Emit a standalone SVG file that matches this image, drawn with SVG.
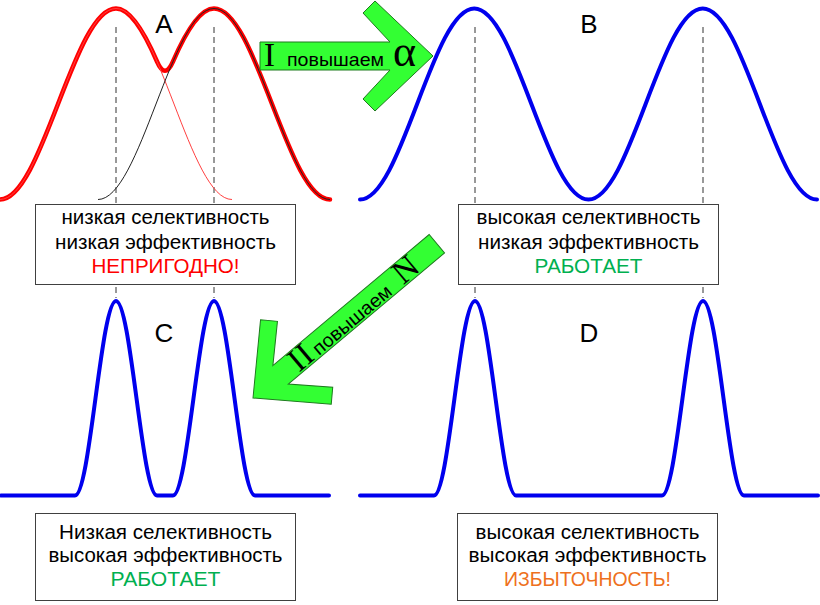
<svg xmlns="http://www.w3.org/2000/svg" width="820" height="605" viewBox="0 0 820 605">
<style>
.bg{fill:#ffffff}
.dash{stroke:#333333;stroke-width:1;stroke-dasharray:6 4;fill:none}
.blue{stroke:#0000ee;stroke-width:4;fill:none;stroke-linejoin:round;stroke-linecap:round}
.thickred{stroke:#ff0000;stroke-width:4.5;fill:none;stroke-linejoin:round;stroke-linecap:round}
.thinred{stroke:#ff4040;stroke-width:1;fill:none}
.thinblack{stroke:#222222;stroke-width:1;fill:none}
.box{fill:#ffffff;stroke:#404040;stroke-width:1}
.lbl{font-family:"Liberation Sans",Arial,sans-serif;font-size:26px;fill:#000000;text-anchor:middle}
.bt{font-family:"Liberation Sans",Arial,sans-serif;font-size:19.5px;fill:#000000;text-anchor:middle}
.red{fill:#ff0000}
.green{fill:#00b050}
.orange{fill:#ee7020}
.arrow{fill:#33ff33;stroke:#1e7a1e;stroke-width:1;stroke-linejoin:miter}
.serif{font-family:"Liberation Serif","Times New Roman",serif;fill:#000000}
.small{font-family:"Liberation Sans",Arial,sans-serif;font-size:19px;fill:#000000}
</style>
<rect class="bg" x="0" y="0" width="820" height="605"/>

<g id="guides">
<line class="dash" x1="116" y1="27" x2="116" y2="298"/>
<line class="dash" x1="214" y1="27" x2="214" y2="298"/>
<line class="dash" x1="475" y1="27" x2="475" y2="298"/>
<line class="dash" x1="703" y1="27" x2="703" y2="298"/>
</g>

<g id="panelA">
<path class="thickred" d="M0,199.5 C20.99,199.5 39.09,152.92 58,104 C76.91,55.08 95.01,8.5 116,8.5 C129.67,8.5 143.33,29.84 157,61.5 Q165,80 173,61.5 C186.67,29.84 200.33,8.5 214,8.5 C234.99,8.5 253.09,55.08 272,104 C290.91,152.92 309.01,199.5 330,199.5"/>
<path class="thinred" d="M0,199.5 C20.99,199.5 39.09,152.92 58,104 C76.91,55.08 95.01,8.5 116,8.5 C136.99,8.5 155.09,55.08 174,104 C192.91,152.92 211.01,199.5 232,199.5"/>
<path class="thinblack" d="M98,199.5 C118.99,199.5 137.09,152.92 156,104 C174.91,55.08 193.01,8.5 214,8.5 C234.99,8.5 253.09,55.08 272,104 C290.91,152.92 309.01,199.5 330,199.5"/>
<text class="lbl" x="164" y="33">A</text>
</g>

<g id="panelB">
<path class="blue" d="M360,199.5 C380.67,199.5 398.5,152.92 417.125,104 C435.75,55.08 453.58,8.5 474.25,8.5 C494.92,8.5 512.75,55.08 531.375,104 C550,152.92 567.83,199.5 588.5,199.5 C609.17,199.5 627,152.92 645.625,104 C664.25,55.08 682.08,8.5 702.75,8.5 C723.42,8.5 741.25,55.08 759.875,104 C778.5,152.92 796.33,199.5 817,199.5"/>
<text class="lbl" x="589" y="33">B</text>
</g>

<g id="panelC">
<path class="blue" d="M1,495.5 L75,495.5 C82.42,495.5 88.81,448.07 95.5,398.25 C102.19,348.43 108.58,301 116,301 C123.42,301 129.81,348.43 136.5,398.25 C143.19,448.07 149.58,495.5 157,495.5 L173,495.5 C180.42,495.5 186.81,448.07 193.5,398.25 C200.19,348.43 206.58,301 214,301 C221.42,301 227.81,348.43 234.5,398.25 C241.19,448.07 247.58,495.5 255,495.5 L329,495.5"/>
<text class="lbl" x="164" y="342">C</text>
</g>

<g id="panelD">
<path class="blue" d="M360,495.5 L434,495.5 C441.42,495.5 447.81,448.07 454.5,398.25 C461.19,348.43 467.58,301 475,301 C482.42,301 488.81,348.43 495.5,398.25 C502.19,448.07 508.58,495.5 516,495.5 L662,495.5 C669.42,495.5 675.81,448.07 682.5,398.25 C689.19,348.43 695.58,301 703,301 C710.42,301 716.81,348.43 723.5,398.25 C730.19,448.07 736.58,495.5 744,495.5 L818,495.5"/>
<text class="lbl" x="589" y="342">D</text>
</g>

<g id="boxA">
<rect class="box" x="35.5" y="204.5" width="260" height="80"/>
<text class="bt" x="165.5" y="224" textLength="208" lengthAdjust="spacingAndGlyphs">низкая селективность</text>
<text class="bt" x="165.5" y="248.5" textLength="221" lengthAdjust="spacingAndGlyphs">низкая эффективность</text>
<text class="bt red" x="165.5" y="272.5" textLength="148" lengthAdjust="spacingAndGlyphs">НЕПРИГОДНО!</text>
</g>

<g id="boxB">
<rect class="box" x="458.5" y="204.5" width="260" height="80"/>
<text class="bt" x="588.5" y="224" textLength="224" lengthAdjust="spacingAndGlyphs">высокая селективность</text>
<text class="bt" x="588.5" y="248.5" textLength="221" lengthAdjust="spacingAndGlyphs">низкая эффективность</text>
<text class="bt green" x="588.5" y="272.5" textLength="108" lengthAdjust="spacingAndGlyphs">РАБОТАЕТ</text>
</g>

<g id="boxC">
<rect class="box" x="35.5" y="513.5" width="260" height="87"/>
<text class="bt" x="165.5" y="538.5" textLength="213" lengthAdjust="spacingAndGlyphs">Низкая селективность</text>
<text class="bt" x="165.5" y="562" textLength="234" lengthAdjust="spacingAndGlyphs">высокая эффективность</text>
<text class="bt green" x="165.5" y="585.5" textLength="110" lengthAdjust="spacingAndGlyphs">РАБОТАЕТ</text>
</g>

<g id="boxD">
<rect class="box" x="457.5" y="513.5" width="260" height="87"/>
<text class="bt" x="587.5" y="538.5" textLength="224" lengthAdjust="spacingAndGlyphs">высокая селективность</text>
<text class="bt" x="587.5" y="562" textLength="238" lengthAdjust="spacingAndGlyphs">высокая эффективность</text>
<text class="bt orange" x="587.5" y="585.5" textLength="167" lengthAdjust="spacingAndGlyphs">ИЗБЫТОЧНОСТЬ!</text>
</g>

<g id="connectors">
<g id="arrowI">
<polygon class="arrow" points="260,42 390,42 363,13 375,1 433,56 375,111 363,99 390,70 260,70"/>
<text class="serif" x="264" y="66" font-size="33">I</text>
<text class="small" x="287" y="66" textLength="97" lengthAdjust="spacingAndGlyphs">повышаем</text>
<text class="serif" x="393" y="66" font-size="44">α</text>
</g>
<g id="arrowII">
<polygon class="arrow" transform="translate(253,398) rotate(140)" points="0,0 -56,-55 -68,-43 -36,-12 -240,-12 -240,12 -36,12 -68,43 -56,55"/>
<g transform="translate(357,311) rotate(-40)">
<text class="serif" x="-84" y="10" font-size="33">II</text>
<text class="small" x="-58" y="10" textLength="97" lengthAdjust="spacingAndGlyphs">повышаем</text>
<text class="serif" x="52" y="10" font-size="33">N</text>
</g>
</g>
</g>
</svg>
